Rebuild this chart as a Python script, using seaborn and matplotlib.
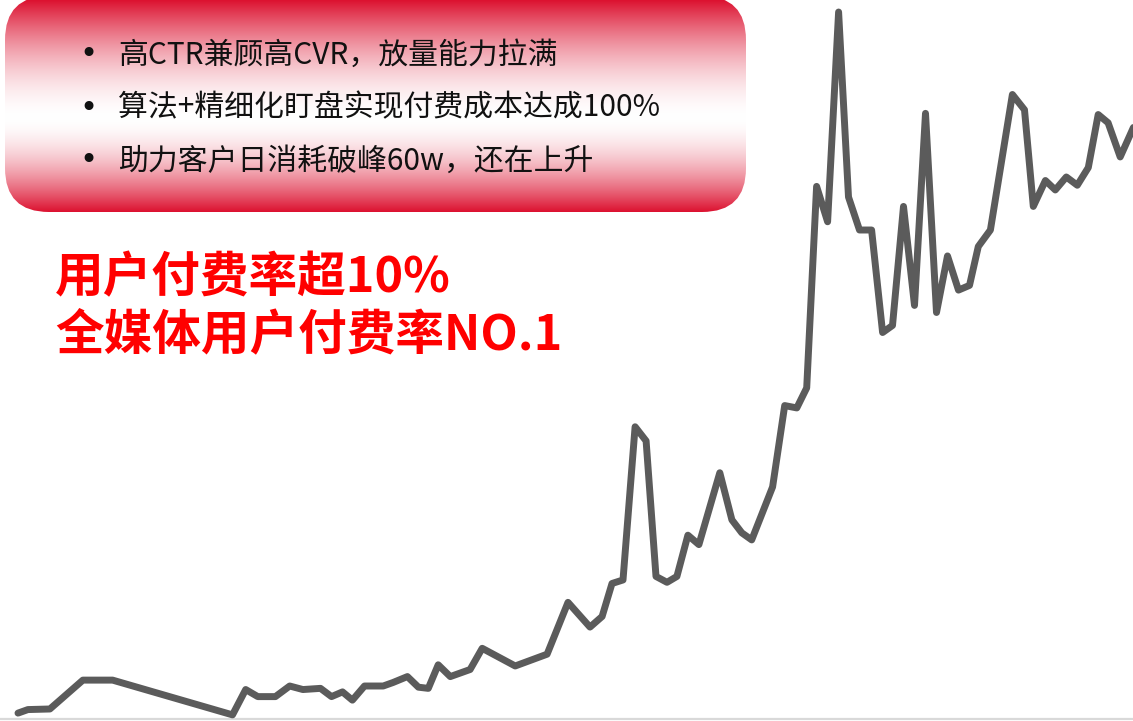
import numpy as np
import matplotlib
matplotlib.use("Agg")
import matplotlib.pyplot as plt
import seaborn as sns
from matplotlib.patches import FancyBboxPatch
from matplotlib.colors import to_rgb

# ---- data (day index, daily spend in w) ----
days = [0, 0.9, 2.9, 5.9, 8.6, 19.5, 20.7, 21.8, 23.4, 24.7, 25.9, 27.5, 28.5, 29.5,
        30.4, 31.5, 33.2, 34.1, 35.4, 36.4, 37.3, 38.2, 39.3, 41.1, 42.2, 45.2, 48.1,
        50.0, 52.0, 53.1, 54.0, 55.0, 56.1, 57.1, 58.0, 59.0, 59.9, 60.9, 61.9, 63.8,
        64.9, 65.8, 66.7, 68.6, 69.7, 70.8, 71.7, 72.6, 73.6, 74.6, 75.5, 76.5, 77.6,
        78.6, 79.5, 80.5, 81.5, 82.5, 83.5, 84.5, 85.5, 86.5, 87.3, 88.4, 90.4, 91.5,
        92.3, 93.4, 94.3, 95.3, 96.3, 97.3, 98.2, 99.1, 100.2, 101.4]
spend = [0.5, 0.8, 0.85, 3.3, 3.3, 0.35, 2.5, 1.9, 1.9, 2.8, 2.5, 2.6, 1.9, 2.3,
         1.6, 2.8, 2.8, 3.1, 3.6, 2.7, 2.6, 4.6, 3.6, 4.2, 6.0, 4.5, 5.5,
         9.9, 7.8, 8.7, 11.5, 11.8, 24.8, 23.6, 12.1, 11.6, 12.1, 15.6, 14.8, 20.9,
         16.9, 15.8, 15.2, 19.7, 26.6, 26.4, 28.1, 45.2, 42.2, 60.0, 44.3, 41.5, 41.5,
         32.8, 33.4, 43.5, 35.1, 51.4, 34.5, 39.3, 36.4, 36.8, 40.1, 41.5, 53.0, 51.7,
         43.5, 45.7, 44.9, 46.0, 45.3, 46.8, 51.3, 50.6, 47.7, 50.2]

bullets = ["高CTR兼顾高CVR，放量能力拉满",
           "算法+精细化盯盘实现付费成本达成100%",
           "助力客户日消耗破峰60w，还在上升"]
headline = ["用户付费率超10%", "全媒体用户付费率NO.1"]

sns.set_theme(style="white")
plt.rcParams['font.family'] = ['Noto Sans CJK SC', 'DejaVu Sans']

W, H = 1133, 721
fig = plt.figure(figsize=(W / 100, H / 100), dpi=100)
fig.patch.set_facecolor("white")

# ---- line chart ----
ax = fig.add_axes([0, 0, 1, 1])
ax.axhline(0, color="#d9d9d9", lw=1.6, zorder=1)
sns.lineplot(x=days, y=spend, ax=ax, color="#5b5b5b", linewidth=5.0,
             solid_joinstyle="round", solid_capstyle="round", sort=False,
             estimator=None, zorder=2)
ax.set_xlim(-18 / 11.0, (W - 18) / 11.0)
ax.set_ylim(-2 / 11.783, 719 / 11.783)
ax.axis("off")

# ---- overlay (pixel coordinates) ----
ov = fig.add_axes([0, 0, 1, 1], zorder=5)
ov.set_xlim(0, W)
ov.set_ylim(H, 0)
ov.axis("off")
ov.patch.set_alpha(0)

bx0, by0, bx1, by1 = 5, -4, 746, 212
box = FancyBboxPatch((bx0, by0), bx1 - bx0, by1 - by0,
                     boxstyle="round,pad=0,rounding_size=44",
                     facecolor="none", edgecolor="none")
ov.add_patch(box)
yy = np.linspace(by0, by1, 300)
red = np.array(to_rgb("#dc1230"))
white = np.array([1.0, 1.0, 1.0])
cy = 118
t = np.where(yy < cy, (cy - yy) / (cy - 0), (yy - cy) / (by1 - cy))
t = np.clip(t, 0, 1) ** 1.7
grad = (white[None, :] * (1 - t[:, None]) + red[None, :] * t[:, None])
img = np.repeat(grad[:, None, :], 2, axis=1)
im = ov.imshow(img, extent=[bx0, bx1, by1, by0], aspect="auto",
               interpolation="bilinear", zorder=3)
im.set_clip_path(box)
ov.set_xlim(0, W)
ov.set_ylim(H, 0)

for i, s in enumerate(bullets):
    y = 55 + i * 53
    ov.text(88, y, "•", fontsize=22, color="#111111", ha="center", va="center",
            family="DejaVu Sans", zorder=4)
    ov.text(118, y, s, fontsize=21.5, color="#111111", ha="left", va="center",
            style="italic", zorder=4)

for i, s in enumerate(headline):
    ov.text(55, 278 + i * 57, s, fontsize=35, color="#ff0000", ha="left",
            va="center", fontweight="bold", style="italic", zorder=4)

fig.savefig("out.png", dpi=100, facecolor="white")
